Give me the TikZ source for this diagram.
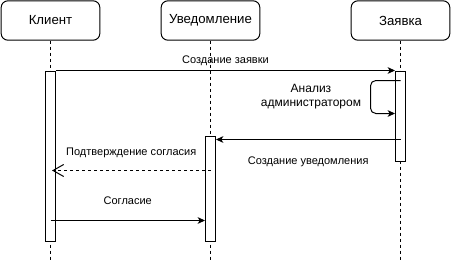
\documentclass[tikz,border=0pt]{standalone}
\usepackage{fontspec}
\setmainfont{Liberation Sans}
\usetikzlibrary{positioning,arrows.meta}

\tikzset{
  actor/.style={draw, rounded corners=5pt, minimum width=74pt, minimum height=29.5pt, font=\fontsize{9.9}{11}\selectfont},
  bar/.style={draw, fill=white, minimum width=7.5pt, inner sep=0pt, anchor=north},
  life/.style={dash pattern=on 2.25pt off 2.25pt},
  msg/.style={-{Stealth[length=5.5pt, width=5pt, inset=1.5pt]}},
  reply/.style={dash pattern=on 2.25pt off 2.25pt, -{Straight Barb[length=8pt, width=9pt]}},
  lbl/.style={font=\fontsize{8.25}{9.5}\selectfont},
}

\begin{document}
\begin{tikzpicture}[x=0.75pt, y=-0.75pt, line width=0.75pt]
            \useasboundingbox [fill=white] (0,0) rectangle (451,261);

            \node [actor] (klient) at (50.5,20.5) {Клиент};
            \node [actor] (uved) at (210.5,20.5) {Уведомление};
            \node [actor] (zayavka) at (400.5,20.5) {Заявка};

            \coordinate (kend) at (50.5,261);
            \coordinate (uend) at (210.5,261);
            \coordinate (zend) at (400.5,261);

            \draw [life] (klient) -- (kend);
            \draw [life] (uved) -- (uend);
            \draw [life] (zayavka) -- (zend);

            % activation bars
            \node [bar, minimum height=127.5pt] (kbar) at (50.5,70.5) {};
            \node [bar, minimum height=67.5pt] (zbar) at (400.5,70.5) {};
            \node [bar, minimum height=78.75pt] (ubar) at (210.5,135.5) {};

            \coordinate (analiz1) at (400.5,80.5);
            \coordinate (analiz2) at (370.5,80.5);
            \coordinate (analiz3) at (zbar.west |- 0,113.5);
            \coordinate (uvedfrom) at (400.5,139.5);
            \coordinate (uvedto) at (ubar.east |- uvedfrom);
            \coordinate (podtvfrom) at (210.5,170.5);
            \coordinate (podtvto) at (52,170.5);
            \coordinate (soglfrom) at (50.5,220.5);
            \coordinate (soglto) at (ubar.west |- soglfrom);

            \draw [msg] (kbar.north east) -- (zbar.north west) node [midway, above, lbl] {Создание заявки};

            \draw [msg, rounded corners=4pt] (analiz1) -- (analiz2) |- (analiz3);
            \node [align=center, anchor=east, font=\fontsize{9}{10}\selectfont] (analiz) at (366,96.5) {Анализ\\администратором};

            \draw [msg] (uvedfrom) -- (uvedto) node [midway, below=9pt, lbl] {Создание уведомления};
            \draw [reply] (podtvfrom) -- (podtvto) node [midway, above=6pt, lbl] {Подтверждение согласия};
            \draw [msg] (soglfrom) -- (soglto) node [midway, above=8pt, lbl] {Согласие};
        \end{tikzpicture}
\end{document}
